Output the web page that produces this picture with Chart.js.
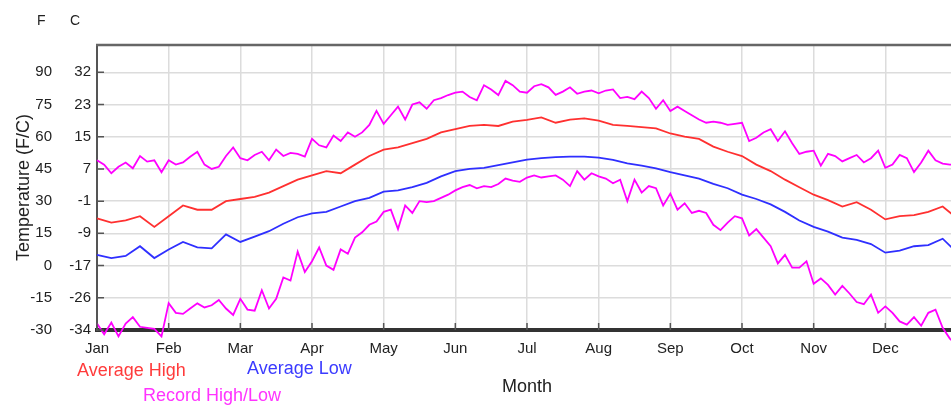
<!DOCTYPE html>
<html>
<head>
<meta charset="utf-8">
<title>Temperature by month</title>
<script src="https://cdn.jsdelivr.net/npm/chart.js@4.4.1/dist/chart.umd.min.js"></script>
<style>
  html, body { margin: 0; padding: 0; background: #fff; overflow: hidden; }
  #wrap { position: relative; width: 960px; height: 407px; }
  .lbl { position: absolute; font-family: "Liberation Sans", Arial, sans-serif; line-height: 1; white-space: nowrap; }
</style>
</head>
<body>
<div id="wrap">
  <canvas id="tempChart"></canvas>
  <div class="lbl" style="left:37px;top:13px;font-size:14px;color:#222">F</div>
  <div class="lbl" style="left:70px;top:13px;font-size:14px;color:#222">C</div>
  <div class="lbl" style="left:77px;top:361px;font-size:18px;color:#ff3b3b">Average High</div>
  <div class="lbl" style="left:247px;top:359px;font-size:18px;color:#3b3bff">Average Low</div>
  <div class="lbl" style="left:143px;top:386px;font-size:18px;color:#ff33ff">Record High/Low</div>
</div>
<script>
const FONT = '"Liberation Sans", Arial, sans-serif';

const monthLabels = ["Jan", "Feb", "Mar", "Apr", "May", "Jun", "Jul", "Aug", "Sep", "Oct", "Nov", "Dec"];
const fTicks = [-30, -15, 0, 15, 30, 45, 60, 75, 90];
const cLabels = ["-34", "-26", "-17", "-9", "-1", "7", "15", "23", "32"];

// readings every 0.2 month (averages) and every 0.1 month (records), in F
const avgStep = 0.2;
const recStep = 0.1;

const avgHigh = [
  22, 20, 21, 23, 18, 23, 28, 26, 26, 30,
  31, 32, 34, 37, 40, 42, 44, 43, 47, 51,
  54, 55, 57, 59, 62, 63.5, 65, 65.5, 65, 67,
  67.8, 69, 66.5, 68, 68.5, 67.5, 65.5, 65, 64.5, 63.9,
  61.5, 60, 59, 55.4, 53, 51, 47, 44, 40, 36.5,
  33, 30.5, 27.5, 29.5, 26, 21.5, 23, 23.5, 25, 27.5,
  22
];

const avgLow = [
  5, 3.5, 4.5, 9, 3.5, 7.5, 11, 8.5, 8, 14.5,
  11, 13.5, 16, 19.5, 22.5, 24.3, 25, 27.5, 30, 31.5,
  34.4, 35, 36.5, 38.5, 41.5, 44, 45, 45.5, 46.8, 48,
  49.3, 50, 50.5, 50.7, 50.7, 50.3, 49.2, 47.6, 46.5, 45.3,
  43.5, 42, 40.5, 38, 36, 33, 31, 28.5, 25, 21,
  18, 15.8, 13, 12, 10, 6, 7, 9, 9.5, 12.5,
  6
];

const recordHigh = [
  49, 47, 43, 46, 48, 45.3, 51, 48.4, 49, 43.5,
  49, 47, 48, 50.7, 53, 47, 45, 46, 51, 55,
  50, 49, 51.5, 53, 49, 54, 51, 52.5, 52, 50.7,
  59, 56, 55, 60.5, 58, 62, 60, 62, 65.5, 72,
  66, 70, 74, 68, 75, 76, 73, 77, 78, 79.4,
  80.5, 81, 78.5, 77, 84, 82, 79.4, 86, 84, 81,
  80.5, 83.5, 84.5, 83, 79.5, 81, 83, 80, 81, 81.5,
  80.2, 81.5, 82, 78, 78.5, 77.5, 81, 78, 73, 77,
  72, 74, 72, 70, 68, 66.5, 67, 66.5, 65.5, 66,
  66.5, 58, 59.5, 62, 63.5, 58, 62.5, 57, 52, 53,
  53.5, 46.5, 52, 51, 48.5, 50, 51.5, 48, 50, 53.5,
  45.5, 47, 51.5, 50, 43.5, 48, 53.5, 49, 47.5, 47,
  47
];

const recordLow = [
  -27, -32, -26.5, -33, -27, -24, -28.5, -29, -29.5, -33,
  -17.5, -22, -22.5, -20, -17.6, -19.5, -18.5, -16, -20, -23,
  -15.5, -20.5, -21, -11.5, -20, -15.5, -5.5, -7, 6.5, -3,
  2, 8.5, 0, -2, 7.5, 5.5, 13, 15.5, 19, 20.5,
  25, 26, 17, 28, 24.5, 30, 29.5, 30, 31.5, 33,
  35, 36.5, 37.5, 36, 37, 36.5, 38, 40.5, 39.5, 39,
  41, 42, 41, 41.5, 42, 40, 37, 44, 40, 43,
  41.5, 40.5, 38.3, 40, 30, 40, 34, 37, 36, 28,
  33.5, 26, 29, 24.5, 25.5, 24.5, 19, 16.5, 20, 23,
  22, 14, 17, 13, 9, 1, 5, -1, -1, 2,
  -8.5, -6, -9, -13.5, -9.5, -13, -17, -18, -13.5, -22,
  -19, -22, -26, -27.5, -24, -28, -22, -20.5, -29, -34,
  -37
];

function toPoints(values, step) {
  return values.map((v, i) => ({ x: i * step, y: v }));
}

function lineSet(label, values, step, color) {
  return {
    label,
    data: toPoints(values, step),
    borderColor: color,
    borderWidth: 1.8,
    pointRadius: 0,
    tension: 0,
    clip: false,
    xAxisID: "x",
    yAxisID: "yF"
  };
}

// top frame line + short inward tick marks
const frameTicks = {
  id: "frameTicks",
  afterDraw(chart) {
    const { ctx, chartArea: a, scales } = chart;
    ctx.save();
    ctx.strokeStyle = "#666";
    ctx.lineWidth = 2.5;
    ctx.beginPath();
    ctx.moveTo(a.left - 1, a.top);
    ctx.lineTo(a.right + 5, a.top);
    ctx.stroke();

    ctx.strokeStyle = "#555";
    ctx.lineWidth = 1.5;
    ctx.beginPath();
    fTicks.forEach((v) => {
      const y = scales.yF.getPixelForValue(v);
      ctx.moveTo(a.left, y);
      ctx.lineTo(a.left + 7, y);
    });
    monthLabels.forEach((m, i) => {
      const x = scales.x.getPixelForValue(i);
      ctx.moveTo(x, a.bottom);
      ctx.lineTo(x, a.bottom - 7);
    });
    ctx.stroke();
    ctx.restore();
  }
};

const Y_MIN = -30;
const Y_MAX = 102.7;

new Chart(document.getElementById("tempChart"), {
  type: "line",
  data: {
    datasets: [
      lineSet("Record High", recordHigh, recStep, "#ff00ff"),
      lineSet("Record Low", recordLow, recStep, "#ff00ff"),
      lineSet("Average High", avgHigh, avgStep, "#ff3030"),
      lineSet("Average Low", avgLow, avgStep, "#2f2fff")
    ]
  },
  options: {
    responsive: true,
    maintainAspectRatio: false,
    animation: false,
    layout: { padding: { top: 45, right: 3, left: 0, bottom: 0 } },
    plugins: { legend: { display: false }, tooltip: { enabled: false } },
    scales: {
      x: {
        type: "linear",
        min: 0,
        max: 12,
        afterBuildTicks: (s) => { s.ticks = monthLabels.map((m, i) => ({ value: i })); },
        afterFit: (s) => { s.height = 77; },
        ticks: {
          callback: (v, i) => monthLabels[i],
          color: "#222",
          font: { family: FONT, size: 15 },
          padding: 10,
          maxRotation: 0,
          autoSkip: false
        },
        grid: { color: "#dcdcdc", lineWidth: 1.5, drawTicks: false },
        border: { color: "#333", width: 4 },
        title: {
          display: true,
          text: "Month",
          color: "#222",
          font: { family: FONT, size: 18 },
          padding: { top: 0, bottom: 9 }
        }
      },
      yC: {
        position: "left",
        weight: 0,
        min: Y_MIN,
        max: Y_MAX,
        afterBuildTicks: (s) => { s.ticks = fTicks.map((v) => ({ value: v })); },
        afterFit: (s) => { s.width = 42; },
        ticks: {
          callback: (v, i) => cLabels[i],
          color: "#222",
          font: { family: FONT, size: 15 },
          padding: 6,
          autoSkip: false
        },
        grid: { display: false, drawTicks: false },
        border: { color: "#555", width: 2 }
      },
      yF: {
        position: "left",
        weight: 1,
        min: Y_MIN,
        max: Y_MAX,
        afterBuildTicks: (s) => { s.ticks = fTicks.map((v) => ({ value: v })); },
        afterFit: (s) => { s.width = 55; },
        ticks: {
          color: "#222",
          font: { family: FONT, size: 15 },
          padding: 3,
          autoSkip: false
        },
        grid: { color: "#dcdcdc", lineWidth: 1.5, drawTicks: false },
        border: { display: false },
        title: {
          display: true,
          text: "Temperature (F/C)",
          color: "#222",
          font: { family: FONT, size: 18 },
          padding: { top: 13, bottom: 0 }
        }
      }
    }
  },
  plugins: [frameTicks]
});
</script>
</body>
</html>
